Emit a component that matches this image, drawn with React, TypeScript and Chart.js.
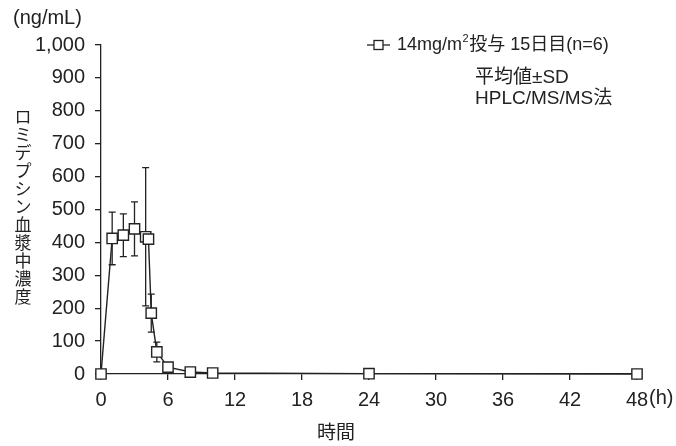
import { useEffect, useRef } from "react";
import { Chart, registerables } from "chart.js";

Chart.register(...registerables);

const times = [0, 1, 2, 3, 4, 4.25, 4.5, 5, 6, 8, 10, 24, 48];
const means = [0, 412, 422, 441, 417, 410, 185, 67, 21, 6, 3, 1, 0];
const sds = [0, 80, 65, 82, 210, 0, 58, 30, 0, 0, 0, 0, 0];

const legendPre = "14mg/m";
const legendSup = "2";
const legendPost = "投与 15日目(n=6)";
const noteLines = ["平均値±SD", "HPLC/MS/MS法"];
const yUnit = "(ng/mL)";
const yTitle = "ロミデプシン血漿中濃度";
const xTitle = "時間";
const xUnit = "(h)";

const FONT = "'Liberation Sans', 'Noto Sans CJK JP', sans-serif";
const INK = "#222";

export default function App() {
  const ref = useRef<HTMLCanvasElement | null>(null);

  useEffect(() => {
    const canvas = ref.current;
    if (!canvas) return;

    const errorBars = {
      id: "errorBars",
      beforeDatasetsDraw(chart: any) {
        const ctx = chart.ctx;
        const xs = chart.scales.x;
        const ys = chart.scales.y;
        ctx.save();
        ctx.strokeStyle = INK;
        ctx.lineWidth = 1.3;
        for (let i = 0; i < times.length; i++) {
          if (!sds[i]) continue;
          const x = xs.getPixelForValue(times[i]);
          const yt = ys.getPixelForValue(means[i] + sds[i]);
          const yb = ys.getPixelForValue(means[i] - sds[i]);
          ctx.beginPath();
          ctx.moveTo(x, yt);
          ctx.lineTo(x, yb);
          ctx.moveTo(x - 3.5, yt);
          ctx.lineTo(x + 3.5, yt);
          ctx.moveTo(x - 3.5, yb);
          ctx.lineTo(x + 3.5, yb);
          ctx.stroke();
        }
        ctx.restore();
      },
    };

    const texts = {
      id: "texts",
      afterDraw(chart: any) {
        const ctx = chart.ctx;
        ctx.save();
        ctx.fillStyle = INK;
        ctx.textBaseline = "middle";
        ctx.textAlign = "left";
        ctx.font = `20px ${FONT}`;
        // y unit
        ctx.fillText(yUnit, 13, 18);
        // legend
        ctx.font = `18px ${FONT}`;
        const ly = 45;
        ctx.strokeStyle = INK;
        ctx.lineWidth = 1.3;
        ctx.beginPath();
        ctx.moveTo(367, ly);
        ctx.lineTo(390, ly);
        ctx.stroke();
        ctx.fillStyle = "#fff";
        ctx.fillRect(374, ly - 4.5, 9, 9);
        ctx.strokeRect(374, ly - 4.5, 9, 9);
        ctx.fillStyle = INK;
        let x = 397;
        ctx.fillText(legendPre, x, ly);
        x += ctx.measureText(legendPre).width;
        ctx.font = `11px ${FONT}`;
        ctx.fillText(legendSup, x + 0.5, ly - 6);
        x += ctx.measureText(legendSup).width + 1;
        ctx.font = `18px ${FONT}`;
        ctx.fillText(legendPost, x, ly);
        // notes
        ctx.font = `19px ${FONT}`;
        ctx.fillText(noteLines[0], 475, 78);
        ctx.fillText(noteLines[1], 475, 99);
        // x unit
        ctx.font = `20px ${FONT}`;
        ctx.fillText(xUnit, 649, 398);
        // x title
        ctx.textAlign = "center";
        ctx.font = `19px ${FONT}`;
        ctx.fillText(xTitle, 336, 434);
        // vertical y title
        ctx.font = `17px ${FONT}`;
        const chars = Array.from(yTitle);
        for (let i = 0; i < chars.length; i++) {
          ctx.fillText(chars[i], 23, 118 + i * 18);
        }
        ctx.restore();
      },
    };

    const chart = new Chart(canvas, {
      type: "line",
      data: {
        datasets: [
          {
            data: times.map((t, i) => ({ x: t, y: means[i] })),
            borderColor: INK,
            borderWidth: 1.4,
            pointStyle: "rect",
            pointRadius: 7.3,
            pointBackgroundColor: "#fff",
            pointBorderColor: INK,
            pointBorderWidth: 1.4,
            tension: 0,
            clip: false as any,
          },
        ],
      },
      options: {
        responsive: false,
        animation: false,
        devicePixelRatio: 1,
        layout: { padding: { left: 0, top: 45, right: 39, bottom: 0 } },
        plugins: { legend: { display: false }, tooltip: { enabled: false } },
        scales: {
          x: {
            type: "linear",
            min: 0,
            max: 48,
            afterFit(s: any) {
              s.height = 72;
            },
            ticks: {
              stepSize: 6,
              color: INK,
              padding: 8,
              font: { family: FONT, size: 20 },
              maxRotation: 0,
            },
            grid: { drawOnChartArea: false, drawTicks: true, tickLength: 6, color: INK, lineWidth: 1.3 },
            border: { display: true, color: INK, width: 1.3 },
          },
          y: {
            type: "linear",
            min: 0,
            max: 1000,
            afterFit(s: any) {
              s.width = 101;
            },
            ticks: {
              stepSize: 100,
              color: INK,
              padding: 10,
              font: { family: FONT, size: 20 },
            },
            grid: { drawOnChartArea: false, drawTicks: true, tickLength: 6, color: INK, lineWidth: 1.3 },
            border: { display: true, color: INK, width: 1.3 },
          },
        },
      },
      plugins: [errorBars, texts],
    } as any);

    return () => chart.destroy();
  }, []);

  return (
    <div style={{ position: "fixed", left: 0, top: 0, width: 676, height: 446, background: "#fff" }}>
      <canvas ref={ref} width={676} height={446} />
    </div>
  );
}
